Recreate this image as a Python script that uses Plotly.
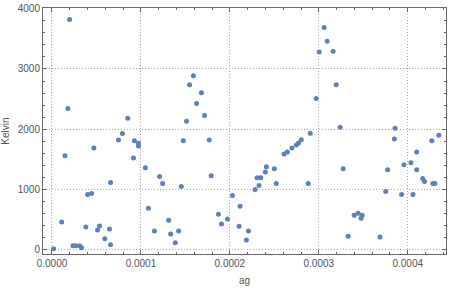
import plotly.graph_objects as go

ag = [
    0.0000198, 0.0000179, 0.0000852, 0.0000792, 0.0000747, 0.0000927,
    0.000159, 0.0001547, 0.000168, 0.0001626, 0.0001715, 0.0001513, 0.0001476, 0.0001768,
    0.000306, 0.0003094, 0.0003004, 0.0003161, 0.0003195, 0.0002971, 0.000324, 0.0002904,
    0.0002803, 0.0003857, 0.0003849, 0.000435, 0.0004271,
    0.0000146, 0.0000471, 0.0000972, 0.0000972, 0.0000916, 0.000105, 0.0000658,
    0.0000445, 0.00004, 0.0001084, 0.0000109, 0.0000381, 0.0000535, 0.0000512,
    0.0000647, 0.0000594, 0.0000658, 0.0000019, 0.0000236, 0.0000266, 0.0000311, 0.0000333,
    0.000121, 0.0001244, 0.0001454, 0.000179, 0.0001312, 0.0001151, 0.0001334,
    0.0001424, 0.0001386, 0.0001872, 0.0001906, 0.0001973, 0.0002029, 0.0002115,
    0.0002104, 0.0002209, 0.0002186, 0.0002284, 0.0002328, 0.0002306, 0.0002347,
    0.0002399, 0.000241, 0.00025, 0.0002522, 0.0002609, 0.0002646, 0.0002698,
    0.0002747, 0.0002772, 0.0002881,
    0.0003274, 0.000333, 0.0003397, 0.0003442, 0.0003487, 0.0003475, 0.0003688,
    0.0003752, 0.0003774, 0.0003931, 0.0003957, 0.0004036, 0.0004058, 0.00041,
    0.00041, 0.0004167, 0.0004189, 0.0004282, 0.0004305,
]
kelvin = [
    3824, 2342, 2178, 1926, 1816, 1805,
    2886, 2738, 2606, 2425, 2227, 2128, 1806, 1816,
    3692, 3462, 3281, 3297, 2738, 2507, 2030, 1931,
    1822, 2013, 1833, 1898, 1805,
    1553, 1685, 1761, 1717, 1519, 1355, 1108,
    927, 910, 680, 449, 367, 384, 318,
    334, 170, 71, 5, 55, 55, 55, 21,
    1207, 1092, 1042, 1223, 482, 301, 252,
    301, 104, 581, 416, 499, 894, 713,
    379, 301, 153, 993, 1058, 1190, 1190,
    1284, 1371, 1338, 1092, 1585, 1618, 1684,
    1733, 1766, 1092,
    1338, 214, 565, 598, 565, 515, 203,
    960, 1322, 910, 1404, 1437, 910, 1618,
    1322, 1174, 1124, 1092, 1092,
]

x_ticks = [0.0, 0.0001, 0.0002, 0.0003, 0.0004]
x_ticklabels = ["0.0000", "0.0001", "0.0002", "0.0003", "0.0004"]
y_ticks = [0, 1000, 2000, 3000, 4000]
y_ticklabels = ["0", "1000", "2000", "3000", "4000"]

frame = "#666666"
txt = "#555555"
grid = "#a8a8a8"

fig = go.Figure(
    go.Scatter(
        x=ag, y=kelvin, mode="markers",
        marker=dict(color="#5E81B5", size=5, line=dict(width=0)),
        hoverinfo="skip",
    )
)

common = dict(
    showline=True, linecolor=frame, linewidth=1, mirror="allticks",
    ticks="inside", ticklen=4, tickcolor=frame, tickwidth=1,
    showgrid=True, gridcolor=grid, griddash="1px,2px", gridwidth=1,
    zeroline=False,
    tickfont=dict(family="Liberation Sans, Arial, sans-serif", size=10, color=txt),
)

fig.update_xaxes(
    range=[-0.0000101, 0.000443], tickvals=x_ticks, ticktext=x_ticklabels,
    minor=dict(dtick=0.00002, tick0=0, ticks="inside", ticklen=2, tickcolor=frame, showgrid=False),
    title=dict(text="ag", font=dict(family="Liberation Sans, Arial, sans-serif", size=10, color=txt), standoff=8),
    **common,
)
fig.update_yaxes(
    range=[-82, 4016], tickvals=y_ticks, ticktext=y_ticklabels,
    minor=dict(dtick=200, tick0=0, ticks="inside", ticklen=2, tickcolor=frame, showgrid=False),
    title=dict(text="Kelvin", font=dict(family="Liberation Sans, Arial, sans-serif", size=10, color=txt), standoff=6),
    **common,
)

fig.update_layout(
    width=450, height=291,
    margin=dict(l=43, r=3, t=5, b=37),
    paper_bgcolor="white", plot_bgcolor="white",
    showlegend=False,
)

fig.write_html("out.html")
